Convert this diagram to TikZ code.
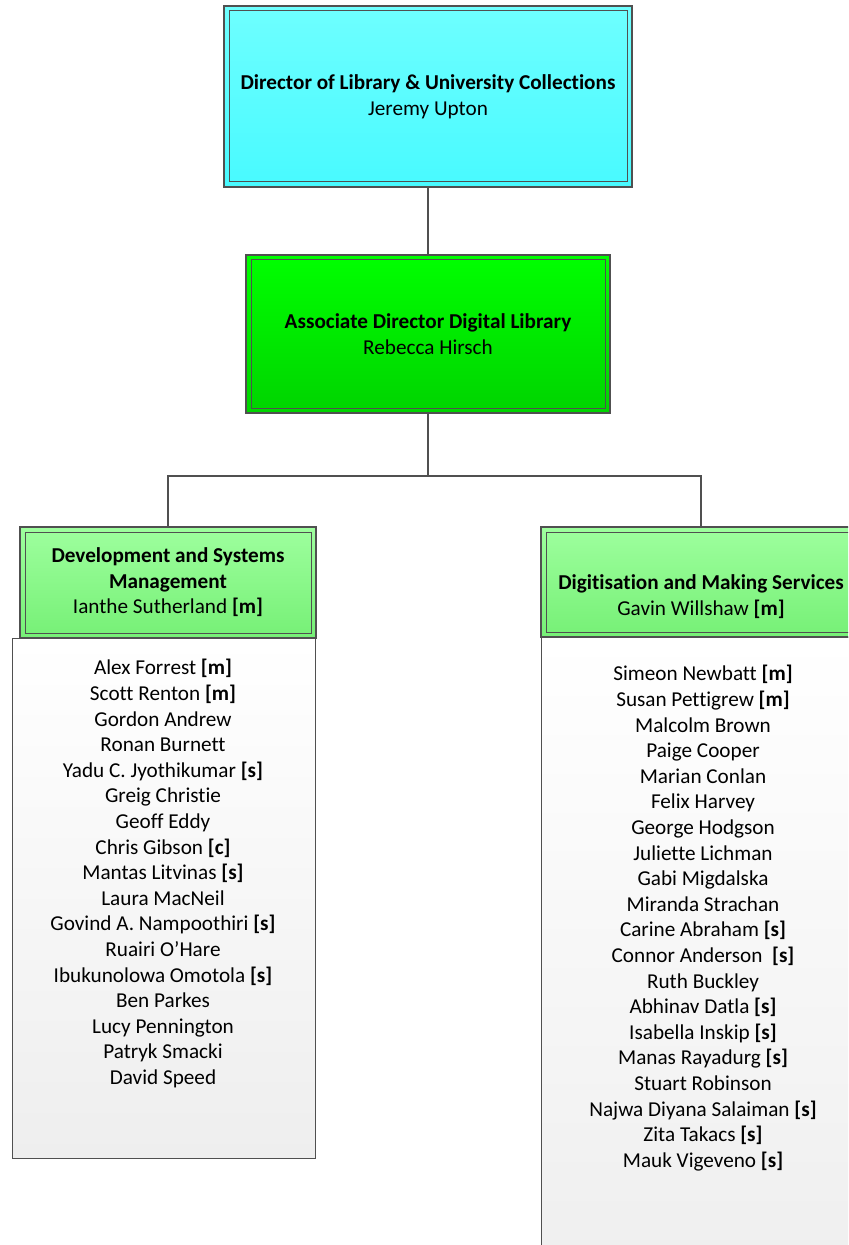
\documentclass[tikz,border=0pt]{standalone}
\usepackage{fontspec}
\setmainfont[Ligatures=NoCommon]{Carlito}
\usetikzlibrary{positioning,calc}

\definecolor{linegrey}{RGB}{80,80,80}
\definecolor{cyantop}{RGB}{110,255,255}
\definecolor{cyanbot}{RGB}{72,250,255}
\definecolor{greentop}{RGB}{0,255,0}
\definecolor{greenbot}{RGB}{0,212,0}
\definecolor{lgreentop}{RGB}{158,255,158}
\definecolor{lgreenbot}{RGB}{118,240,118}
\definecolor{staffbot}{RGB}{238,238,238}

\begin{document}
\begin{tikzpicture}[x=0.5pt,y=-0.5pt,
  every node/.style={font=\fontsize{10.6}{12.8}\selectfont, align=center, inner sep=0pt},
  dblbox/.style={draw=linegrey, line width=0.6pt, rectangle,
    path picture={\draw[linegrey, line width=0.5pt]
      ([shift={(2.5pt,-2.5pt)}]path picture bounding box.north west) rectangle
      ([shift={(-2.5pt,2.5pt)}]path picture bounding box.south east);}},
  staffbox/.style={draw=linegrey, line width=0.5pt, rectangle, top color=white, bottom color=staffbot},
  link/.style={draw=linegrey, line width=1pt}
]
  \useasboundingbox (0,0) rectangle (848,1245);
  \clip (0,0) rectangle (848,1245);

  \node[dblbox, top color=cyantop, bottom color=cyanbot, minimum width=204pt, minimum height=90.5pt] (director) at (428,96.5)
    {\textbf{Director of Library \& University Collections}\\ Jeremy Upton};
  \node[dblbox, top color=greentop, bottom color=greenbot, minimum width=182pt, minimum height=79pt] (assoc) at (428,334)
    {\textbf{Associate Director Digital Library}\\ Rebecca Hirsch};

  % staff lists first, heads go on top
  \node[staffbox, anchor=north west, minimum width=151.5pt, minimum height=260pt] (devstaff) at (12,638) {};
  \node[staffbox, anchor=north west, minimum width=170pt, minimum height=330pt] (digstaff) at (541,637) {};

  \node[dblbox, top color=lgreentop, bottom color=lgreenbot, minimum width=148pt, minimum height=55.5pt] (devhead) at (168,582.5)
    {\textbf{Development and Systems}\\ \textbf{Management}\\ Ianthe Sutherland \textbf{[m]}};
  \node[dblbox, top color=lgreentop, bottom color=lgreenbot, minimum width=160pt, minimum height=55pt] (dighead) at (701,582)
    {\strut\\ \textbf{Digitisation and Making Services}\\ Gavin Willshaw \textbf{[m]}};

  \node[below=10.5pt of devstaff.north, xshift=-0.5pt] (devlist) {%
    Alex Forrest \textbf{[m]}\\ Scott Renton \textbf{[m]}\\ Gordon Andrew\\ Ronan Burnett\\
    Yadu C. Jyothikumar \textbf{[s]}\\ Greig Christie\\ Geoff Eddy\\ Chris Gibson \textbf{[c]}\\
    Mantas Litvinas \textbf{[s]}\\ Laura MacNeil\\ Govind A. Nampoothiri \textbf{[s]}\\ Ruairi O'Hare\\
    Ibukunolowa Omotola \textbf{[s]}\\ Ben Parkes\\ Lucy Pennington\\ Patryk Smacki\\ David Speed};
  \node[anchor=north] (diglist) at (703,665) {%
    Simeon Newbatt \textbf{[m]}\\ Susan Pettigrew \textbf{[m]}\\ Malcolm Brown\\ Paige Cooper\\
    Marian Conlan\\ Felix Harvey\\ George Hodgson\\ Juliette Lichman\\ Gabi Migdalska\\
    Miranda Strachan\\ Carine Abraham \textbf{[s]}\\ Connor Anderson \ \textbf{[s]}\\ Ruth Buckley\\
    Abhinav Datla \textbf{[s]}\\ Isabella Inskip \textbf{[s]}\\ Manas Rayadurg \textbf{[s]}\\
    Stuart Robinson\\ Najwa Diyana Salaiman \textbf{[s]}\\ Zita Takacs \textbf{[s]}\\ Mauk Vigeveno \textbf{[s]}};

  \coordinate (bus) at (428,476);

  \draw[link] (director) -- (assoc);
  \draw[link] (assoc) -- (bus);
  \draw[link] (bus) -| (devhead);
  \draw[link] (bus) -| (dighead);

\end{tikzpicture}
\end{document}
